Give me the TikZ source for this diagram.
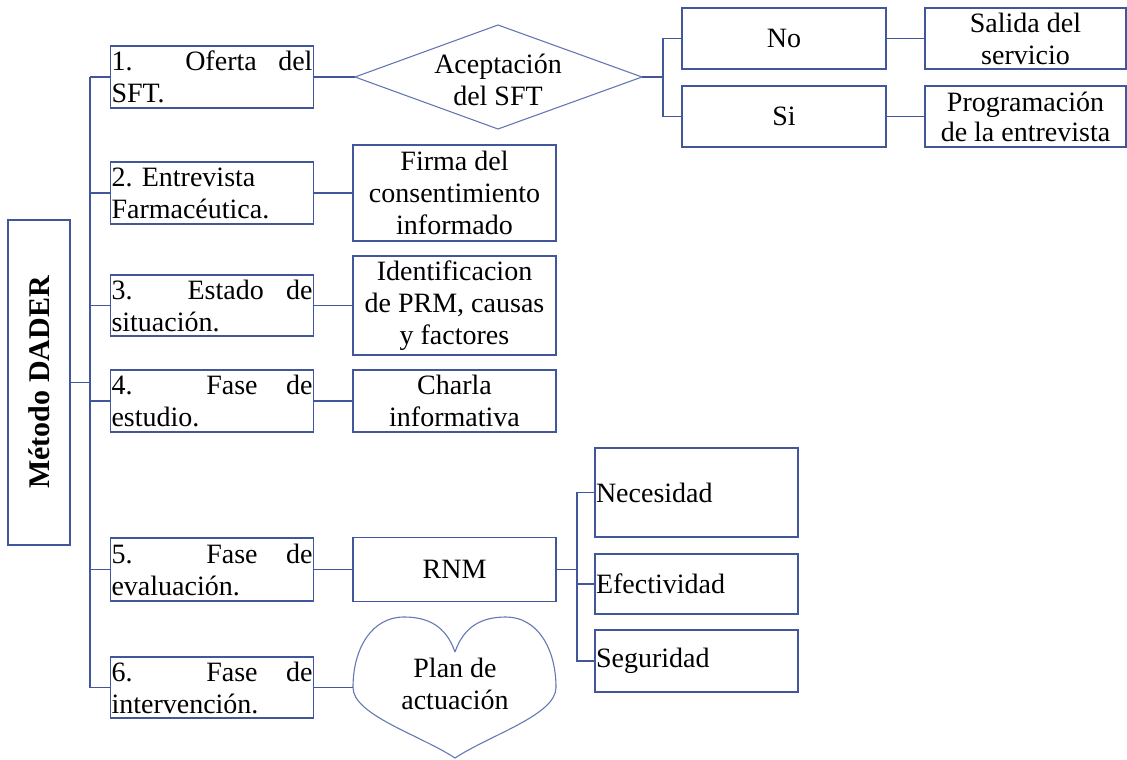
\documentclass[tikz,border=0pt]{standalone}
\usepackage{fontspec}
\setmainfont{Liberation Serif}
\hbadness=10000
\definecolor{edge}{RGB}{66,86,156}
\definecolor{soft}{RGB}{100,120,178}
\begin{document}
\begin{tikzpicture}[x=1pt,y=-1pt,
  every node/.style={font=\fontsize{28}{32}\selectfont},
  box/.style={draw=edge,line width=1.4pt,inner xsep=1pt,inner ysep=0pt,minimum width=203pt},
  lbox/.style={box,text width=201pt,align=justify},
  cbox/.style={box,align=center},
  rbox/.style={box,text width=201pt,align=left},
  link/.style={draw=edge,line width=1.4pt},
  shp/.style={draw=soft,line width=1.1pt}]
\useasboundingbox (0,0) rectangle (1127,760);

% main box
\node[box,minimum width=62pt,minimum height=325pt] (dader) at (39,382.5) {};
\node[rotate=90,font=\fontsize{30}{34}\selectfont\bfseries] (dadert) at (dader.center) {Método DADER};

% column 1
\node[lbox,minimum height=62pt] (b1) at (212,77) {1. Oferta del\linebreak SFT.};
\node[lbox,minimum height=62pt] (b2) at (212,193) {2. Entrevista\newline Farmacéutica.};
\node[lbox,minimum height=61pt] (b3) at (212,305.5) {3. Estado de\linebreak situación.};
\node[lbox,minimum height=62pt] (b4) at (212,401) {4. Fase de\linebreak estudio.};
\node[lbox,minimum height=63pt] (b5) at (212,569.5) {5. Fase de\linebreak evaluación.};
\node[lbox,minimum height=61pt] (b6) at (212,687.5) {6. Fase de\linebreak intervención.};

% diamond
\coordinate (dl) at (355,77);
\coordinate (dt) at (498,25);
\coordinate (dr) at (642,77);
\coordinate (db) at (498,129);
\draw[shp] (dl) -- (dt) -- (dr) -- (db) -- cycle;
\node[align=center] (acep) at (498,80) {Aceptación\\del SFT};

% column 2
\node[cbox,minimum height=96pt] (c2) at (454.5,193) {Firma del\\consentimiento\\informado};
\node[cbox,minimum height=99pt] (c3) at (454.5,305.5) {Identificacion\\de PRM, causas\\y factores};
\node[cbox,minimum height=62pt] (c4) at (454.5,401) {Charla\\informativa};
\node[cbox,minimum height=64pt] (c5) at (454.5,569.5) {RNM};

% heart
\coordinate (hl) at (353,687.5);
\coordinate (hb) at (455,758);
\coordinate (hr) at (556,687.5);
\coordinate (hd) at (455,652);
\draw[shp] (hd) .. controls (446,626) and (428,617) .. (404,617)
  .. controls (372,617) and (353,648) .. (hl)
  .. controls (353,715) and (420,735) .. (hb)
  .. controls (490,735) and (556,715) .. (hr)
  .. controls (556,648) and (537,617) .. (506,617)
  .. controls (482,617) and (464,626) .. (hd);
\node[align=center] (plan) at (455,684) {Plan de\\actuación};

% RNM children
\node[rbox,minimum height=89pt] (n1) at (696.5,492.5) {Necesidad};
\node[rbox,minimum height=60pt] (n2) at (696.5,584) {Efectividad};
\node[rbox,minimum height=62pt] (n3) at (696.5,661) {Seguridad};

% top right
\node[cbox,minimum width=204pt,minimum height=61pt] (no) at (784,38.5) {No};
\node[cbox,minimum width=204pt,minimum height=61pt] (si) at (784,116.5) {Si};
\node[cbox,minimum width=201pt,minimum height=61pt] (sal) at (1025.5,38.5) {Salida del\\servicio};
\node[cbox,minimum width=201pt,minimum height=61pt,font=\fontsize{28}{30}\selectfont] (prog) at (1025.5,116.5) {Programación\\de la entrevista};

% trunk
\coordinate (tr) at (90,382);
\draw[link] (dader.east) -- (dader.east -| tr);
\draw[link] (b1.west -| tr) -- (b6.west -| tr);
\foreach \b in {b1,b2,b3,b4,b5,b6} \draw[link] (\b.west -| tr) -- (\b.west);

% column 1 -> column 2
\draw[link] (b1.east) -- (dl);
\draw[link] (b2.east) -- (c2.west);
\draw[link] (b3.east) -- (c3.west);
\draw[link] (b4.east) -- (c4.west);
\draw[link] (b5.east) -- (c5.west);
\draw[link] (b6.east) -- (hl);

% diamond -> No/Si
\coordinate (dj) at (663,77);
\draw[link] (dr) -- (dj);
\draw[link] (no.west) -| (dj) |- (si.west);
\draw[link] (no.east) -- (sal.west);
\draw[link] (si.east) -- (prog.west);

% RNM -> children
\coordinate (rj) at (577,569.5);
\draw[link] (c5.east) -- (rj);
\draw[link] (n1.west) -| (rj) |- (n3.west);
\draw[link] (rj |- n2.west) -- (n2.west);
\end{tikzpicture}
\end{document}
